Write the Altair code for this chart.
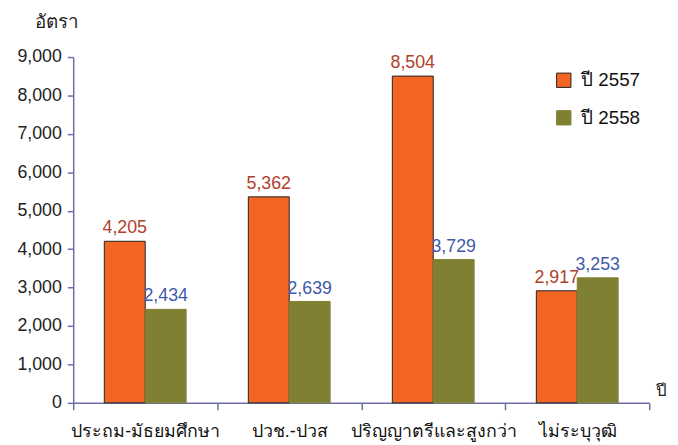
import altair as alt
import pandas as pd

categories = ["ประถม-มัธยมศึกษา", "ปวช.-ปวส", "ปริญญาตรีและสูงกว่า", "ไม่ระบุวุฒิ"]
series = ["ปี 2557", "ปี 2558"]
values_2557 = [4205, 5362, 8504, 2917]
values_2558 = [2434, 2639, 3729, 3253]
label_colors = ["#b0402a", "#3f5aa8"]
bar_colors = ["#f26522", "#808033"]

rows = []
for c, v in zip(categories, values_2557):
    rows.append({"cat": c, "series": series[0], "value": v, "lc": label_colors[0]})
for c, v in zip(categories, values_2558):
    rows.append({"cat": c, "series": series[1], "value": v, "lc": label_colors[1]})
df = pd.DataFrame(rows)

axis_color = "#6e6eaa"
font = "Liberation Sans"

x_enc = alt.X("cat:N", sort=categories, scale=alt.Scale(paddingInner=0, paddingOuter=0),
              axis=alt.Axis(title="ปี", titleX=589, titleY=-12, titleAlign="left",
                            titleBaseline="middle", titleFontWeight="normal", titleFontSize=17,
                            titleFont=font, titleColor="#222",
                            labelAngle=0, labelFontSize=18, labelFont=font, labelColor="#111",
                            labelPadding=13, tickBand="extent", tickSize=7, tickColor=axis_color,
                            domainColor=axis_color, domainWidth=1.5, tickWidth=1.5))
xo_enc = alt.XOffset("series:N", sort=series,
                     scale=alt.Scale(paddingInner=0, paddingOuter=0.76))
y_enc = alt.Y("value:Q", scale=alt.Scale(domain=[0, 9000], nice=False),
              axis=alt.Axis(values=list(range(0, 9001, 1000)), format=",.0f", grid=False,
                            title="อัตรา", titleAngle=0, titleX=-17, titleY=-36,
                            titleAlign="center", titleBaseline="middle",
                            titleFontWeight="normal", titleFontSize=19, titleFont=font,
                            titleColor="#222",
                            labelFontSize=18, labelFont=font, labelColor="#222", labelPadding=6,
                            tickSize=6, tickColor=axis_color, domainColor=axis_color,
                            domainWidth=1.5, tickWidth=1.5))

leg = alt.Legend(title=None, orient="none", legendX=487, legendY=14,
                 symbolType="square", symbolSize=210, labelFontSize=19,
                 labelFont=font, labelColor="#111", rowPadding=18,
                 labelOffset=8, symbolStrokeWidth=1)

bars = alt.Chart(df).mark_bar(strokeWidth=1).encode(
    x=x_enc, xOffset=xo_enc, y=y_enc,
    color=alt.Color("series:N", sort=series,
                    scale=alt.Scale(domain=series, range=bar_colors), legend=leg),
    stroke=alt.Stroke("series:N", sort=series,
                      scale=alt.Scale(domain=series, range=["#222222", bar_colors[1]]),
                      legend=leg),
)

labels = alt.Chart(df).mark_text(dy=-13, fontSize=18, font=font).encode(
    x=x_enc, xOffset=xo_enc, y=y_enc,
    text=alt.Text("value:Q", format=","),
    color=alt.Color("lc:N", scale=None, legend=None),
)

chart = alt.layer(bars, labels).properties(
    width=583, height=350,
    autosize=alt.AutoSizeParams(type="none"),
    padding={"left": 66, "top": 47, "right": 21, "bottom": 40},
).configure_view(stroke=None)

chart.save("out.html", embed_options={"renderer": "svg", "actions": False})
